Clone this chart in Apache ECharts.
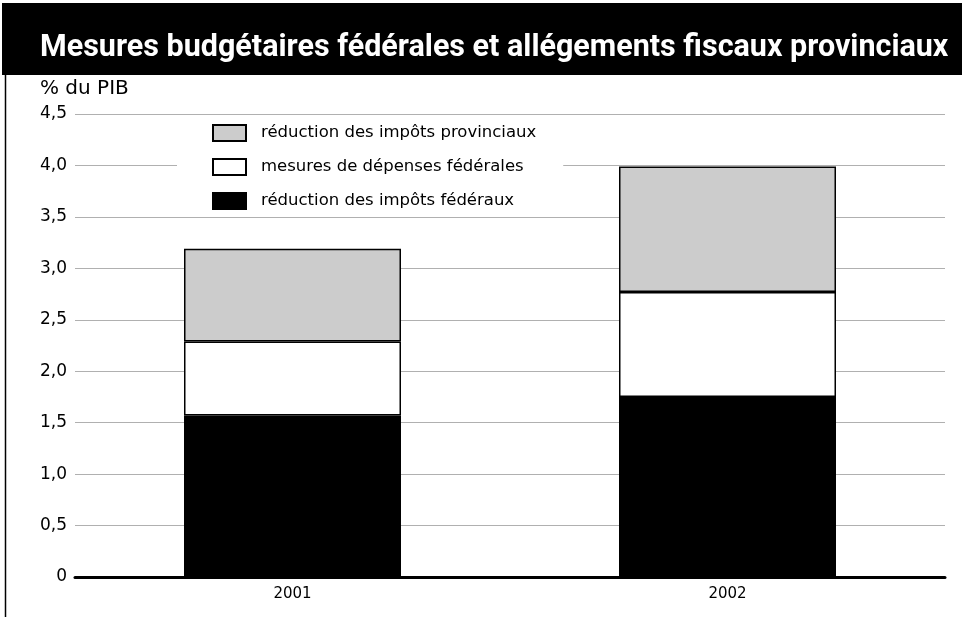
<!DOCTYPE html>
<html>
<head>
<meta charset="utf-8">
<script src="https://cdn.jsdelivr.net/npm/echarts@6/dist/echarts.min.js"></script>
<style>
  html, body { margin: 0; padding: 0; background: #fff; }
  #chart { width: 962px; height: 617px; }
</style>
</head>
<body>
<div id="chart"></div>
<script>
// years on the x axis
var years = ['2001', '2002'];
// % du PIB, stacked from the bottom
var impotsFederaux = [1.57, 1.75];
var depensesFederales = [0.72, 1.02];
var impotsProvinciaux = [0.90, 1.22];
var yTicks = [0, 4.5, 0.5]; // min, max, interval

var chart = echarts.init(document.getElementById('chart'));

function bar(name, data, color) {
    return {
        name: name,
        type: 'bar',
        stack: 'total',
        barWidth: 217,
        data: data,
        itemStyle: { color: color, borderColor: '#000', borderWidth: 1.5 },
        emphasis: { disabled: true }
    };
}

var option = {
    animation: false,
    textStyle: { fontFamily: 'DejaVu Sans, sans-serif' },
    title: {
        text: 'Mesures budgétaires fédérales et allégements fiscaux provinciaux',
        left: 35,
        top: 28,
        textStyle: {
            color: '#fff',
            fontSize: 30.5,
            fontWeight: 'bold',
            fontFamily: 'Roboto, sans-serif'
        }
    },
    graphic: [
        { type: 'rect', z: -1, shape: { x: 2, y: 3, width: 960, height: 72 }, style: { fill: '#000' } },
        { type: 'line', shape: { x1: 5.5, y1: 75, x2: 5.5, y2: 617 }, style: { stroke: '#000', lineWidth: 1.5 } }
    ],
    legend: {
        orient: 'vertical',
        left: 177,
        top: 118,
        padding: [6, 27, 3, 35],
        backgroundColor: '#fff',
        icon: 'rect',
        itemWidth: 33,
        itemHeight: 16,
        itemGap: 16,
        z: 10,
        data: ['réduction des impôts provinciaux', 'mesures de dépenses fédérales', 'réduction des impôts fédéraux'],
        textStyle: { fontSize: 16.5, color: '#000', padding: [0, 0, 0, 10] }
    },
    grid: { left: 75, right: 17, top: 114, bottom: 40 },
    xAxis: {
        type: 'category',
        data: years,
        axisLine: { lineStyle: { color: '#000', width: 3 } },
        axisTick: { show: false },
        axisLabel: { color: '#000', fontSize: 15, margin: 10 }
    },
    yAxis: {
        type: 'value',
        name: '% du PIB',
        nameLocation: 'end',
        nameGap: 15,
        nameTextStyle: { color: '#000', fontSize: 20, align: 'left', padding: [0, 0, 0, -35] },
        min: yTicks[0],
        max: yTicks[1],
        interval: yTicks[2],
        axisLine: { show: false },
        axisTick: { show: false },
        axisLabel: {
            color: '#000',
            fontSize: 17,
            margin: 8,
            formatter: function (v) { return v === 0 ? '0' : v.toFixed(1).replace('.', ','); }
        },
        splitLine: { lineStyle: { color: '#b0b0b0', width: 1 } }
    },
    series: [
        bar('réduction des impôts fédéraux', impotsFederaux, '#000'),
        bar('mesures de dépenses fédérales', depensesFederales, '#fff'),
        bar('réduction des impôts provinciaux', impotsProvinciaux, '#cccccc')
    ]
};

chart.setOption(option);
</script>
</body>
</html>
